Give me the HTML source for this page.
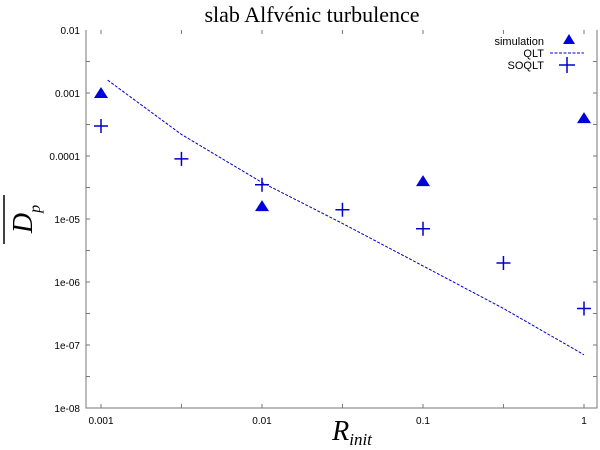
<!DOCTYPE html>
<html><head><meta charset="utf-8"><style>
body{margin:0;background:#fff;}
svg text{font-family:"Liberation Sans",sans-serif;}
</style></head><body>
<svg id="chart" width="600" height="445" xmlns="http://www.w3.org/2000/svg">
<text x="312" y="22" font-family="Liberation Serif" style="font-family:'Liberation Serif',serif" font-size="22" text-anchor="middle">slab Alfvénic turbulence</text>
<text transform="translate(32,219) rotate(-90)" style="font-family:'Liberation Serif',serif;font-style:italic" font-size="28" text-anchor="middle">D<tspan font-size="16" dy="8">p</tspan></text>
<line x1="4" y1="195" x2="4" y2="244" stroke="#000" stroke-width="1.5"/>
<text x="352" y="440" style="font-family:'Liberation Serif',serif;font-style:italic" font-size="28" text-anchor="middle">R<tspan font-size="17" dy="5">init</tspan></text>
<g id="axes"></g><g id="marks"></g>
<g font-size="11">
<text x="544" y="45" text-anchor="end">simulation</text>
<polygon points="569,34 575,44 563,44" fill="#0000dd"/>
<text x="544" y="57" text-anchor="end">QLT</text>
<line x1="550" y1="53" x2="584" y2="53" stroke="#0000cc" stroke-dasharray="3,1.5"/>
<text x="544" y="69" text-anchor="end">SOQLT</text>
<path d="M559,65h16M567,57v16" stroke="#0000cc" stroke-width="1.5"/>
</g>
</svg>
<script>
const simX=[0.001,0.01,0.1,1];
const simY=[1e-3,1.6e-5,4e-5,4e-4];
const soqltX=[0.001,0.00316,0.01,0.0316,0.1,0.316,1];
const soqltY=[3e-4,9e-5,3.5e-5,1.4e-5,7e-6,2e-6,3.8e-7];
const qltX=[0.0011,0.00316,0.01,0.0316,0.1,0.316,1];
const qltY=[1.6e-3,2.2e-4,3.8e-5,8.5e-6,1.8e-6,3.8e-7,7e-8];
const xTicks=[0.001,0.01,0.1,1];
const xTickLabels=["0.001","0.01","0.1","1"];
const yTicks=[1e-8,1e-7,1e-6,1e-5,1e-4,1e-3,1e-2];
const yTickLabels=["1e-08","1e-07","1e-06","1e-05","0.0001","0.001","0.01"];
const L=86,R=597,T=30,B=408;
const xs=v=>101+(Math.log10(v)+3)*161;
const ys=v=>T+(-2-Math.log10(v))*63;
const NS="http://www.w3.org/2000/svg";
function mk(p,t,a){const e=document.createElementNS(NS,t);for(const k in a)e.setAttribute(k,a[k]);p.appendChild(e);return e;}
const ax=document.getElementById('axes'),mg=document.getElementById('marks');
const frame=mk(ax,'path',{d:`M${L},${T}V${B}H${R}V${T}`,fill:'none',stroke:'#777','stroke-width':1});


xTicks.forEach((v,i)=>{
 const x=xs(v);
 const t=mk(ax,'text',{x:x,y:424,'font-size':10,'text-anchor':'middle'});t.textContent=xTickLabels[i];
 
 
 [2,5].forEach(m=>{const xx=xs(v*m*0.5*2/ (m===2?1:1));});
});
for(let d=-3;d<=0;d++){[1,3.16].forEach(m=>{const v=Math.pow(10,d)*m;const x=xs(v);if(x>L&&x<R){
 const a=mk(ax,'line',{x1:x,y1:B,x2:x,y2:B-4,stroke:'#777'});
 
 
 const b=mk(ax,'line',{x1:x,y1:T,x2:x,y2:T+4,stroke:'#777'});
 
 }});}
yTicks.forEach((v,i)=>{
 const y=ys(v);
 const t=mk(ax,'text',{x:80,y:y+4,'font-size':10,'text-anchor':'end'});t.textContent=yTickLabels[i];
 
 
 [1,3.16].forEach(m=>{const yy=ys(v*m);if(yy>T&&yy<B){
  const a=mk(ax,'line',{x1:L,y1:yy,x2:L+4,y2:yy,stroke:'#777'});
  
  
  const b=mk(ax,'line',{x1:R,y1:yy,x2:R-4,y2:yy,stroke:'#777'});
  
  }});
});
const pl=mk(mg,'polyline',{points:qltX.map((v,i)=>xs(v)+','+ys(qltY[i])).join(' '),fill:'none',stroke:'#0000cc','stroke-width':1,'stroke-dasharray':'3,1.5'});


simX.forEach((v,i)=>{const x=xs(v),y=ys(simY[i]);
 const p=mk(mg,'polygon',{points:`${x},${y-6} ${x+7},${y+5} ${x-7},${y+5}`,fill:'#0000dd'});
 
 });
soqltX.forEach((v,i)=>{const x=xs(v),y=ys(soqltY[i]);
 const p=mk(mg,'path',{d:`M${x-7},${y}h14M${x},${y-7}v14`,stroke:'#0000cc','stroke-width':1.5});
 
 });
</script>
</body></html>
